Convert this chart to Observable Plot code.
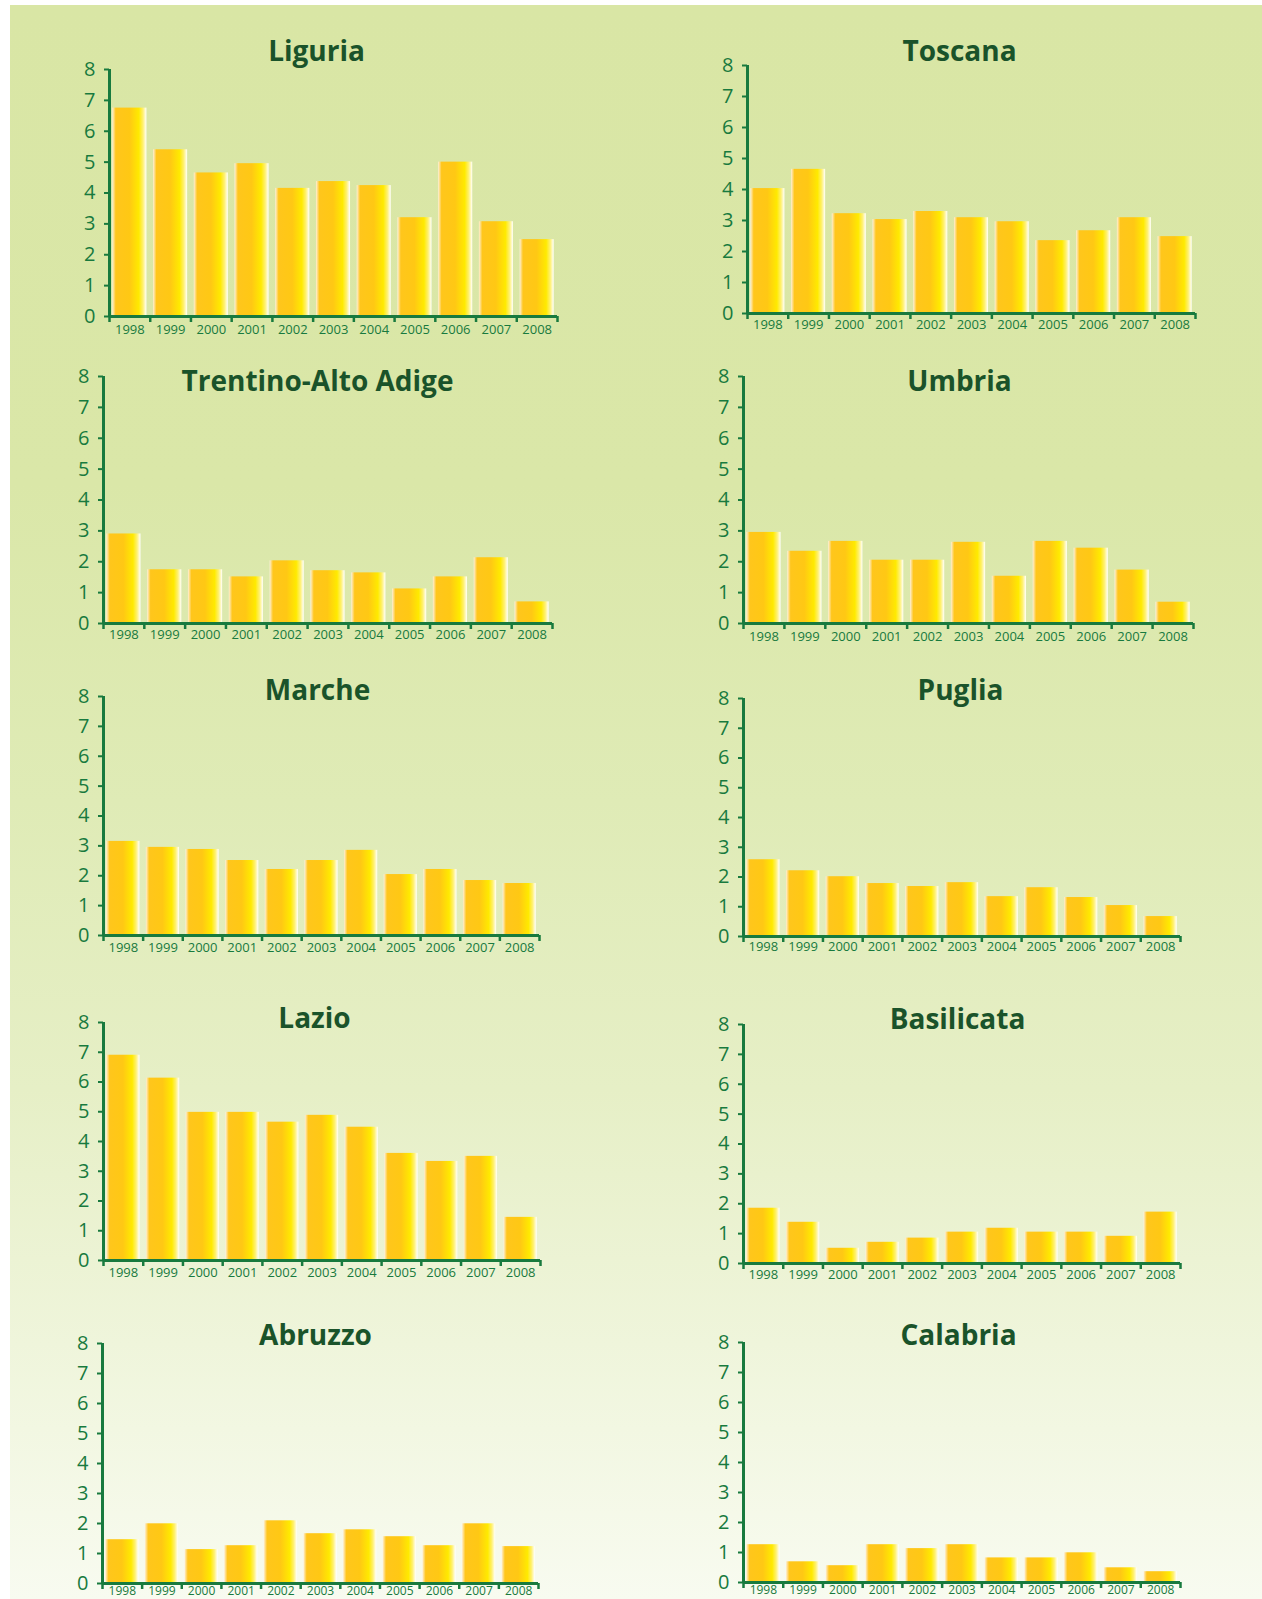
<!DOCTYPE html>
<html><head><meta charset="utf-8">
<script src="https://cdn.jsdelivr.net/npm/d3@7"></script>
<script src="https://cdn.jsdelivr.net/npm/@observablehq/plot@0.6"></script>
<style>
html,body{margin:0;padding:0;background:#fff;overflow:hidden;}
#page{position:relative;width:1262px;height:1599px;overflow:hidden;font-family:"Open Sans",sans-serif;}
#bg{position:absolute;left:10px;top:5px;right:0;bottom:0;
 background:linear-gradient(to bottom,#d9e6a5 0%,#dae7a8 30%,#dfebb6 50%,#e6efc6 68%,#eff5db 84%,#f8fbf0 100%);}
.panel{position:absolute;}
.panel svg{overflow:visible;}
</style></head><body><div id="page"><div id="bg"></div></div>
<script>
// ---- data ----
const years = [1998, 1999, 2000, 2001, 2002, 2003, 2004, 2005, 2006, 2007, 2008];
const regions = ["Liguria", "Toscana", "Trentino-Alto Adige", "Umbria", "Marche", "Puglia", "Lazio", "Basilicata", "Abruzzo", "Calabria"];
const liguria    = [6.75, 5.4, 4.65, 4.95, 4.15, 4.37, 4.24, 3.2, 5.0, 3.07, 2.49];
const toscana    = [4.03, 4.65, 3.22, 3.03, 3.29, 3.09, 2.96, 2.35, 2.67, 3.09, 2.48];
const trentino   = [2.9, 1.74, 1.74, 1.51, 2.03, 1.71, 1.64, 1.12, 1.51, 2.13, 0.7];
const umbria     = [2.95, 2.34, 2.66, 2.05, 2.05, 2.63, 1.53, 2.66, 2.44, 1.73, 0.69];
const marche     = [3.15, 2.95, 2.88, 2.51, 2.21, 2.51, 2.85, 2.04, 2.21, 1.84, 1.74];
const puglia     = [2.58, 2.21, 2.01, 1.78, 1.68, 1.81, 1.34, 1.64, 1.31, 1.04, 0.67];
const lazio      = [6.9, 6.13, 4.98, 4.98, 4.65, 4.88, 4.48, 3.6, 3.33, 3.5, 1.45];
const basilicata = [1.85, 1.38, 0.51, 0.71, 0.85, 1.05, 1.18, 1.05, 1.05, 0.91, 1.72];
const abruzzo    = [1.46, 1.99, 1.13, 1.26, 2.09, 1.66, 1.79, 1.56, 1.26, 1.99, 1.23];
const calabria   = [1.26, 0.69, 0.56, 1.26, 1.13, 1.26, 0.82, 0.82, 0.99, 0.49, 0.36];
const series = [liguria, toscana, trentino, umbria, marche, puglia, lazio, basilicata, abruzzo, calabria];
const yTicks = [0, 1, 2, 3, 4, 5, 6, 7, 8];

// ---- layout (page pixels) ----
const layout = [
  {axisX:109, axisRight:557, y8:69,   y0:316,  titleX:316, titleBase:60,   xPad:8, xFont:13},
  {axisX:747, axisRight:1195,y8:65,   y0:313,  titleX:959, titleBase:60,   xPad:6, xFont:13},
  {axisX:103, axisRight:552, y8:376,  y0:623,  titleX:317, titleBase:390,  xPad:6, xFont:13},
  {axisX:743, axisRight:1193,y8:376,  y0:623,  titleX:959, titleBase:390,  xPad:8, xFont:13},
  {axisX:103, axisRight:539, y8:696,  y0:935,  titleX:317, titleBase:699,  xPad:7, xFont:13},
  {axisX:743, axisRight:1180,y8:698,  y0:936,  titleX:960, titleBase:699,  xPad:5, xFont:13},
  {axisX:103, axisRight:540, y8:1022, y0:1260, titleX:314, titleBase:1027, xPad:7, xFont:13},
  {axisX:743, axisRight:1180,y8:1024, y0:1263, titleX:957, titleBase:1028, xPad:6, xFont:13},
  {axisX:102, axisRight:538, y8:1343, y0:1583, titleX:315, titleBase:1344, xPad:3, xFont:12},
  {axisX:743, axisRight:1180,y8:1342, y0:1582, titleX:958, titleBase:1344, xPad:3, xFont:12}
];
const AXIS = "#187a3e", TITLE = "#1a532a";
const stops = [[0,"#fff0d8"],[0.1,"#ffc61c"],[0.5,"#ffc814"],[0.78,"#ffea00"],[0.9,"#fff172"],[1,"#ffffff"]];
const boundaries = d3.range(years.length + 1).map(i => years[0] - 0.5 + i);

const page = document.getElementById("page");
const mL = 70, mT = 70, mR = 20, mB = 30;

regions.forEach((name, i) => {
  const L = layout[i];
  const data = years.map((y, j) => ({year: y, value: series[i][j]}));
  const w = L.axisRight - L.axisX, h = L.y0 - L.y8;
  const step = w / years.length;
  const inset = step * 0.082;
  const gid = "barGrad" + i;
  const chart = Plot.plot({
    width: w + mL + mR,
    height: h + mT + mB,
    marginLeft: mL, marginRight: mR, marginTop: mT, marginBottom: mB,
    style: {color: AXIS, background: "transparent", fontFamily: "'Open Sans', sans-serif", overflow: "visible"},
    x: {type: "linear", domain: [years[0] - 0.5, years[years.length - 1] + 0.5], axis: null},
    y: {domain: [0, 8], axis: null},
    marks: [
      () => {
        const defs = d3.create("svg:defs");
        const g = defs.append("linearGradient").attr("id", gid)
          .attr("x1", "0").attr("x2", "1").attr("y1", "0").attr("y2", "0");
        stops.forEach(([o, c]) => g.append("stop").attr("offset", o).attr("stop-color", c));
        return defs.node();
      },
      Plot.rectY(data, {x1: d => d.year - 0.5, x2: d => d.year + 0.5, y1: 0, y2: "value",
        insetLeft: inset, insetRight: inset, fill: `url(#${gid})`}),
      Plot.axisY({ticks: yTicks, tickSize: 5, tickPadding: 9, fontSize: 20, label: null, strokeWidth: 2, tickFormat: d => String(d)}),
      Plot.axisX({ticks: boundaries, tickSize: 6, tickFormat: () => "", label: null, strokeWidth: 2.5}),
      Plot.axisX({ticks: years, tickSize: 0, tickPadding: L.xPad, fontSize: L.xFont, label: null, tickFormat: d => String(d)}),
      Plot.ruleY([0], {stroke: AXIS, strokeWidth: 3}),
      Plot.ruleX([years[0] - 0.5], {y1: 0, y2: 8, stroke: AXIS, strokeWidth: 3}),
      Plot.text([name], {text: d => d, frameAnchor: "top", lineAnchor: "bottom",
        dy: L.titleBase - L.y8, dx: L.titleX - (L.axisX + L.axisRight) / 2,
        fontSize: 28, fontWeight: "bold", fill: TITLE, fontFamily: "'Open Sans', sans-serif"})
    ]
  });
  const div = document.createElement("div");
  div.className = "panel";
  div.style.left = (L.axisX - mL) + "px";
  div.style.top = (L.y8 - mT) + "px";
  div.appendChild(chart);
  page.appendChild(div);
});
</script>
</body></html>
